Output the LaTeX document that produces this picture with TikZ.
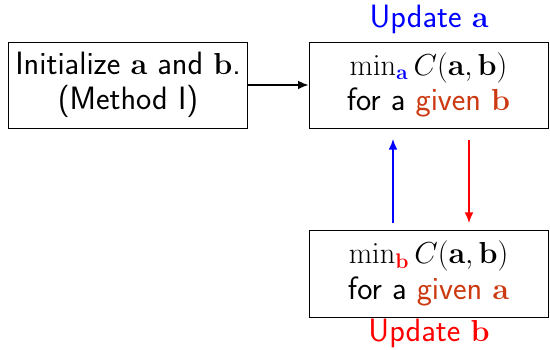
\documentclass[tikz,border=0pt]{standalone}
\usetikzlibrary{arrows.meta,positioning}
\definecolor{givencol}{RGB}{204,58,18}
\begin{document}
\begin{tikzpicture}[x=0.02cm,y=-0.02cm,
  box/.style={draw=black,line width=0.55pt,minimum width=4.8cm,minimum height=1.72cm,
    align=center,inner sep=0pt,font=\sffamily\fontsize{18.4}{20.2}\selectfont},
  lbl/.style={font=\sffamily\fontsize{18.4}{20.2}\selectfont,inner sep=0pt},
  conn/.style={line width=0.9pt,-{Latex[length=6pt,width=5pt]}}]
\useasboundingbox (0,0) rectangle (550,350);
\node[box] (init) at (128,85) {Initialize $\mathbf{a}$ and $\mathbf{b}$.\\(Method I)};
\node[box,minimum width=4.78cm] (upa) at (428.5,85) {$\min_{\color{blue}\mathbf{a}} C(\mathbf{a},\mathbf{b})$\\for a \textcolor{givencol}{given $\mathbf{b}$}};
\node[box,minimum width=4.78cm,minimum height=1.74cm] (upb) at (428.5,273.5) {$\min_{\color{red}\mathbf{b}} C(\mathbf{a},\mathbf{b})$\\for a \textcolor{givencol}{given $\mathbf{a}$}};
\node[lbl,text=blue] (ta) at (429,19) {Update $\mathbf{a}$};
\node[lbl,text=red] (tb) at (429,333) {Update $\mathbf{b}$};
\coordinate (bs) at (393,223);
\coordinate (be) at (393,139);
\coordinate (rs) at (469,140);
\coordinate (re) at (469,223);
\draw[conn,black] (init.east) -- (upa.west);
\draw[conn,blue] (bs) -- (be);
\draw[conn,red] (rs) -- (re);
\end{tikzpicture}
\end{document}
